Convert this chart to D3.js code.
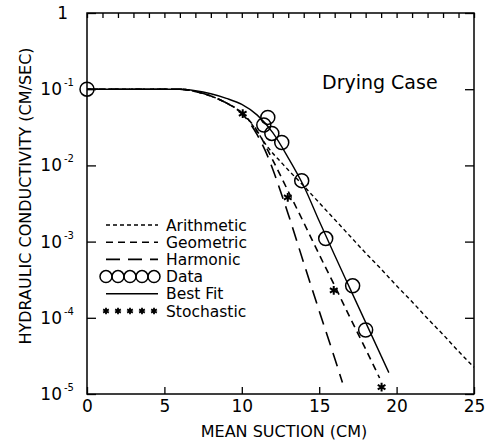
<!DOCTYPE html>
<html>
<head>
<meta charset="utf-8">
<script src="https://cdn.jsdelivr.net/npm/d3@7"></script>
<style>
  body { margin: 0; background: #fff; }
  svg { display: block; font-family: "DejaVu Sans", sans-serif; }
</style>
</head>
<body>
<svg id="chart" width="485" height="443"></svg>
<script>
// Data (log10 of K in cm/sec)
const arithX = [0, 6, 7, 8, 9, 10, 10.5, 11, 11.5, 12, 12.5, 13, 14, 15, 16, 17, 18, 19, 20, 21, 22, 23, 24, 25];
const arithLogK = [-1, -1, -1.03, -1.09, -1.18, -1.31, -1.42, -1.56, -1.71, -1.84, -1.95, -2.06, -2.27, -2.49, -2.71, -2.93, -3.15, -3.36, -3.58, -3.79, -4.01, -4.22, -4.44, -4.65];

const geomX = [0, 6, 7, 8, 9, 10, 11, 12, 13, 14, 15, 16, 17, 18, 18.9];
const geomLogK = [-1, -1, -1.03, -1.09, -1.18, -1.31, -1.55, -1.93, -2.34, -2.75, -3.17, -3.58, -4.0, -4.41, -4.79];

const harmX = [0, 6, 7, 8, 9, 10, 10.5, 11, 11.5, 12, 12.5, 13, 14, 15, 16, 16.5];
const harmLogK = [-1, -1, -1.03, -1.09, -1.18, -1.32, -1.44, -1.60, -1.80, -2.05, -2.34, -2.64, -3.28, -3.91, -4.53, -4.85];

const fitX = [0, 5, 6, 7, 8, 9, 10, 11, 12, 13, 14, 15, 16, 17, 18, 19, 19.5];
const fitLogK = [-1, -1, -1, -1.02, -1.06, -1.12, -1.2, -1.34, -1.57, -1.90, -2.27, -2.73, -3.18, -3.62, -4.06, -4.50, -4.72];

const dataX = [0, 11.42, 11.68, 11.94, 12.58, 13.87, 15.42, 17.16, 18.0];
const dataLogK = [-1, -1.47, -1.37, -1.58, -1.70, -2.20, -2.96, -3.58, -4.16];

const stochX = [10.06, 12.97, 15.94, 19.03];
const stochLogK = [-1.32, -2.42, -3.64, -4.91];

const xTicks = [0, 5, 10, 15, 20, 25];
const yTicks = [1e-5, 1e-4, 1e-3, 1e-2, 1e-1, 1];
const legendLabels = ["Arithmetic", "Geometric", "Harmonic", "Data", "Best Fit", "Stochastic"];

const svg = d3.select("#chart");

// Scales
const x = d3.scaleLinear().domain([0, 25]).range([87, 474]);
const y = d3.scaleLog().domain([1e-5, 1]).range([394, 13]);

const toPts = (xs, ls) => xs.map((v, i) => [v, Math.pow(10, ls[i])]);

// Axes (ticks pointing inward)
const bottomAxis = svg.append("g").attr("transform", "translate(0,394)");
bottomAxis.call(d3.axisBottom(x).tickValues(d3.range(0, 26)).tickSize(-5).tickFormat(""));
bottomAxis.call(d3.axisBottom(x).tickValues(xTicks).tickSize(-7).tickPadding(6).tickFormat(d3.format("d")));

const topAxis = svg.append("g").attr("transform", "translate(0,13)");
topAxis.call(d3.axisTop(x).tickValues(d3.range(0, 26)).tickSize(-5).tickFormat(""));

const leftAxis = svg.append("g").attr("transform", "translate(87,0)");
leftAxis.call(d3.axisLeft(y).tickValues(y.ticks()).tickSize(-5).tickFormat(""));
leftAxis.call(d3.axisLeft(y).tickValues(yTicks).tickSize(-9).tickFormat(""));

const rightAxis = svg.append("g").attr("transform", "translate(474,0)");
rightAxis.call(d3.axisRight(y).tickValues(y.ticks()).tickSize(-5).tickFormat(""));
rightAxis.call(d3.axisRight(y).tickValues(yTicks).tickSize(-9).tickFormat(""));

svg.selectAll(".domain").remove();
svg.selectAll(".tick line").attr("stroke", "#000").attr("stroke-width", 1.3);
bottomAxis.selectAll(".tick text").attr("font-size", 17).attr("font-family", "DejaVu Sans").attr("fill", "#000");

// y tick labels with exponents
yTicks.forEach(v => {
  const e = Math.round(Math.log10(v));
  svg.append("text")
    .attr("x", e === 0 ? 68 : 62)
    .attr("y", y(v) + 6)
    .attr("text-anchor", "end")
    .attr("font-size", 17)
    .text(e === 0 ? "1" : "10");
  if (e !== 0) {
    svg.append("text")
      .attr("x", 64)
      .attr("y", y(v) - 3)
      .attr("font-size", 10)
      .text("-" + (-e));
  }
});

// Frame
svg.append("rect")
  .attr("x", 87).attr("y", 13)
  .attr("width", 474 - 87).attr("height", 394 - 13)
  .attr("fill", "none").attr("stroke", "#000").attr("stroke-width", 1.5);

// Curves
const line = d3.line()
  .x(d => x(d[0]))
  .y(d => y(d[1]))
  .curve(d3.curveMonotoneX);

const styles = {
  Arithmetic: { dash: "4,3", width: 1.4 },
  Geometric: { dash: "7,5", width: 1.6 },
  Harmonic: { dash: "14,8", width: 1.6 },
  "Best Fit": { dash: null, width: 1.4 }
};

const curves = [
  ["Arithmetic", toPts(arithX, arithLogK)],
  ["Geometric", toPts(geomX, geomLogK)],
  ["Harmonic", toPts(harmX, harmLogK)],
  ["Best Fit", toPts(fitX, fitLogK)]
];

svg.append("g").selectAll("path")
  .data(curves)
  .join("path")
    .attr("d", d => line(d[1]))
    .attr("fill", "none")
    .attr("stroke", "#000")
    .attr("stroke-width", d => styles[d[0]].width)
    .attr("stroke-dasharray", d => styles[d[0]].dash);

// Data circles
svg.append("g").selectAll("circle")
  .data(toPts(dataX, dataLogK))
  .join("circle")
    .attr("cx", d => x(d[0]))
    .attr("cy", d => y(d[1]))
    .attr("r", 7)
    .attr("fill", "none")
    .attr("stroke", "#000")
    .attr("stroke-width", 1.5);

// Stochastic stars
const star = d3.symbol(d3.symbolAsterisk, 55);
svg.append("g").selectAll("path")
  .data(toPts(stochX, stochLogK))
  .join("path")
    .attr("d", star)
    .attr("transform", d => `translate(${x(d[0])},${y(d[1])})`)
    .attr("fill", "none")
    .attr("stroke", "#000")
    .attr("stroke-width", 2);

// Legend
const legend = svg.append("g").attr("transform", "translate(0,225)");
const rowH = 17.2;
legendLabels.forEach((name, i) => {
  const cy = i * rowH;
  if (styles[name]) {
    legend.append("line")
      .attr("x1", 106).attr("x2", 158)
      .attr("y1", cy).attr("y2", cy)
      .attr("stroke", "#000")
      .attr("stroke-width", styles[name].width)
      .attr("stroke-dasharray", styles[name].dash);
  } else if (name === "Data") {
    d3.range(5).forEach(k => {
      legend.append("circle")
        .attr("cx", 106 + k * 12).attr("cy", cy).attr("r", 6)
        .attr("fill", "none").attr("stroke", "#000").attr("stroke-width", 1.5);
    });
  } else {
    d3.range(5).forEach(k => {
      legend.append("path")
        .attr("d", d3.symbol(d3.symbolAsterisk, 30))
        .attr("transform", `translate(${106 + k * 12},${cy})`)
        .attr("fill", "none").attr("stroke", "#000").attr("stroke-width", 1.8);
    });
  }
  legend.append("text")
    .attr("x", 166).attr("y", cy + 5.5)
    .attr("font-size", 15.5)
    .text(name);
});

// Annotation
svg.append("text")
  .attr("x", 322).attr("y", 89)
  .attr("font-size", 19)
  .text("Drying Case");

// Axis titles
svg.append("text")
  .attr("x", 284).attr("y", 437)
  .attr("text-anchor", "middle")
  .attr("font-size", 16)
  .text("MEAN SUCTION (CM)");

svg.append("text")
  .attr("transform", "translate(31,196) rotate(-90)")
  .attr("text-anchor", "middle")
  .attr("font-size", 16)
  .text("HYDRAULIC CONDUCTIVITY (CM/SEC)");
</script>
</body>
</html>
